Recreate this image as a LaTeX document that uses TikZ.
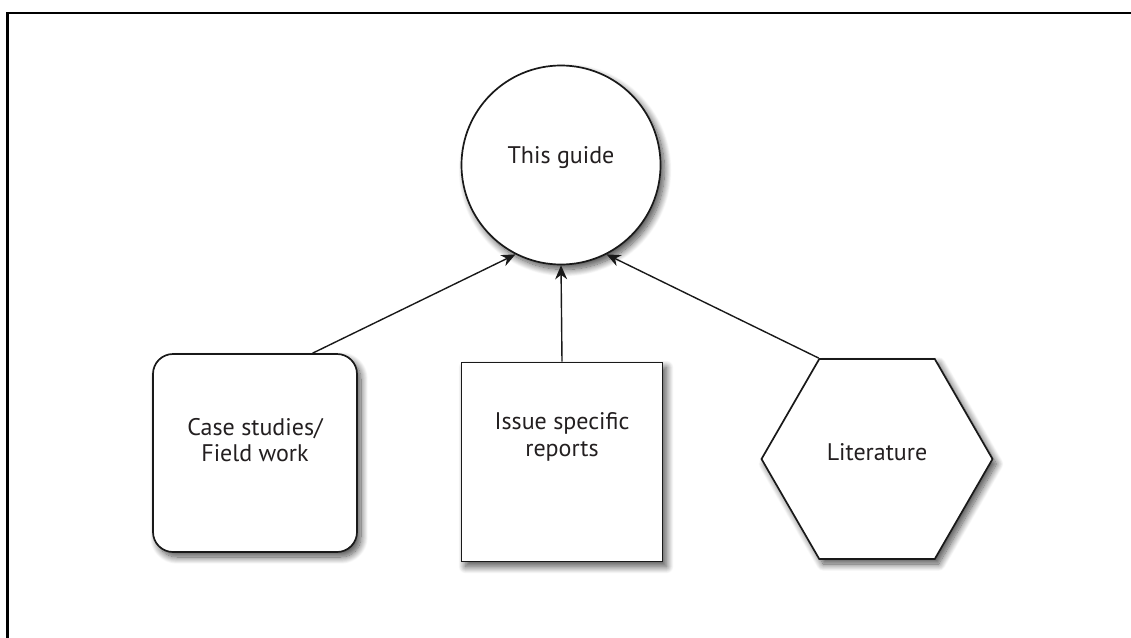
\documentclass[tikz,border=0pt]{standalone}
\usepackage{fontspec}
\setmainfont{PT Sans}
\usetikzlibrary{shapes.geometric,arrows.meta,shadows.blur}
\definecolor{txt}{HTML}{231F20}
\tikzset{
  shp/.style={draw=black!90, line width=1.7pt, fill=white, inner sep=0pt,
    blur shadow={shadow xshift=4pt, shadow yshift=-5pt, shadow blur steps=14, shadow opacity=70, shadow blur radius=7pt}},
  lbl/.style={text=txt, font=\fontsize{24}{26.5}\selectfont, align=center, inner sep=0pt},
  arr/.style={line width=1.4pt, draw=black!90, -{Stealth[length=14pt,width=12pt]}},
}
\begin{document}
\begin{tikzpicture}[x=1pt,y=-1pt]
\useasboundingbox (0,0) rectangle (1131,637);
\draw[line width=2.4pt] (7.5,640) -- (7.5,13) -- (1135,13);
\node[shp, circle, minimum size=199pt,
  label={[lbl,yshift=7pt]center:This guide}] (g) at (561,165) {};
\node[shp, rectangle, rounded corners=20pt, minimum width=204pt, minimum height=198pt,
  label={[lbl,yshift=13pt]center:Case studies/\\Field work}] (cs) at (255,453) {};
\node[shp, rectangle, minimum width=201pt, minimum height=199pt,
  label={[lbl,yshift=25pt]center:Issue specific\\reports}] (isr) at (562,462) {};
\node[shp, regular polygon, regular polygon sides=6, minimum size=231pt,
  label={[lbl,yshift=7pt]center:Literature}] (lit) at (877,459) {};
\draw[arr] (cs.60) -- (g.-117);
\draw[arr] (isr.north) -- (g.south);
\draw[arr] (lit.120) -- (g.-63);
\end{tikzpicture}
\end{document}
